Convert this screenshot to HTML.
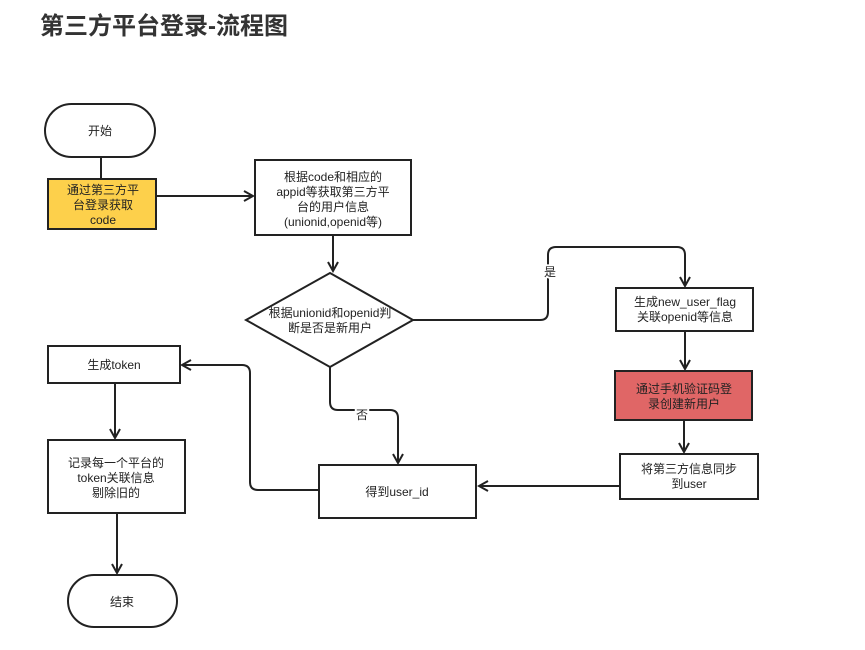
<!DOCTYPE html>
<html><head><meta charset="utf-8"><style>
body{margin:0;background:#fff;width:865px;height:650px;overflow:hidden;font-family:"Liberation Sans","Noto Sans CJK SC",sans-serif;}
</style></head><body>
<svg width="865" height="650" xmlns="http://www.w3.org/2000/svg" style="position:absolute;left:0;top:0">
<defs><marker id="a" markerWidth="12" markerHeight="12" refX="10" refY="6" orient="auto" markerUnits="userSpaceOnUse"><path d="M1,1 L10,6 L1,11" fill="none" stroke="#222" stroke-width="2"/></marker></defs>
<text x="40" y="34" font-size="24" font-weight="bold" fill="#333" font-family="Liberation Sans,Noto Sans CJK SC,sans-serif">第三方平台登录-流程图</text>
<g stroke="#222" stroke-width="2" fill="none">
<line x1="101" y1="157" x2="101" y2="179"/>
<line x1="156" y1="196" x2="253" y2="196" marker-end="url(#a)"/>
<line x1="333" y1="235" x2="333" y2="271" marker-end="url(#a)"/>
<path d="M413,320 H540 Q548,320 548,312 V255 Q548,247 556,247 H677 Q685,247 685,255 V286" marker-end="url(#a)"/>
<line x1="685" y1="331" x2="685" y2="369" marker-end="url(#a)"/>
<line x1="684" y1="420" x2="684" y2="452" marker-end="url(#a)"/>
<line x1="620" y1="486" x2="479" y2="486" marker-end="url(#a)"/>
<path d="M330,367 V402 Q330,410 338,410 H390 Q398,410 398,418 V463" marker-end="url(#a)"/>
<path d="M319,490 H258 Q250,490 250,482 V373 Q250,365 242,365 H182" marker-end="url(#a)"/>
<line x1="115" y1="383" x2="115" y2="438" marker-end="url(#a)"/>
<line x1="117" y1="513" x2="117" y2="573" marker-end="url(#a)"/>
</g>
<g stroke="#222" stroke-width="2">
<rect x="45" y="104" width="110" height="53" rx="26.5" fill="#fff"/>
<rect x="48" y="179" width="108" height="50" fill="#fdd04b"/>
<rect x="255" y="160" width="156" height="75" fill="#fff"/>
<polygon points="330,273 413,320 330,367 246,320" fill="#fff"/>
<rect x="616" y="288" width="137" height="43" fill="#fff"/>
<rect x="615" y="371" width="137" height="49" fill="#e06666"/>
<rect x="620" y="454" width="138" height="45" fill="#fff"/>
<rect x="319" y="465" width="157" height="53" fill="#fff"/>
<rect x="48" y="346" width="132" height="37" fill="#fff"/>
<rect x="48" y="440" width="137" height="73" fill="#fff"/>
<rect x="68" y="575" width="109" height="52" rx="26" fill="#fff"/>
</g>
<g font-size="12" fill="#222" text-anchor="middle" font-family="Liberation Sans,Noto Sans CJK SC,sans-serif">
<text x="100" y="135">开始</text>
<text x="103" y="194">通过第三方平</text><text x="103" y="209">台登录获取</text><text x="103" y="224">code</text>
<text x="333" y="181">根据code和相应的</text><text x="333" y="196">appid等获取第三方平</text><text x="333" y="211">台的用户信息</text><text x="333" y="226">(unionid,openid等)</text>
<text x="330" y="317">根据unionid和openid判</text><text x="330" y="332">断是否是新用户</text>
<text x="550" y="276" style="paint-order:stroke" stroke="#fff" stroke-width="4">是</text>
<text x="685" y="306">生成new_user_flag</text><text x="685" y="321">关联openid等信息</text>
<text x="684" y="393">通过手机验证码登</text><text x="684" y="408">录创建新用户</text>
<text x="689" y="473">将第三方信息同步</text><text x="689" y="488">到user</text>
<text x="362" y="419" style="paint-order:stroke" stroke="#fff" stroke-width="4">否</text>
<text x="397" y="496">得到user_id</text>
<text x="114" y="369">生成token</text>
<text x="116" y="467">记录每一个平台的</text><text x="116" y="482">token关联信息</text><text x="116" y="497">剔除旧的</text>
<text x="122" y="606">结束</text>
</g>
</svg>
</body></html>
